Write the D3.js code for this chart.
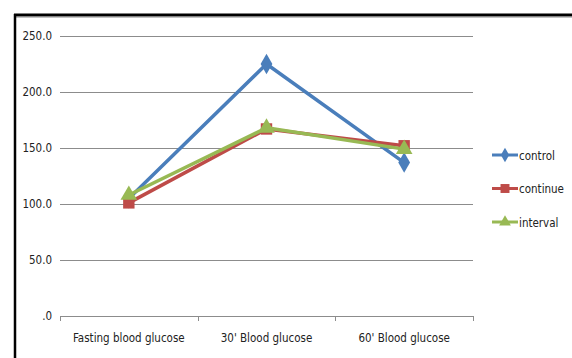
<!DOCTYPE html>
<html>
<head>
<meta charset="utf-8">
<script src="https://cdn.jsdelivr.net/npm/d3@7"></script>
<style>
  body { margin: 0; background: #fff; }
  svg text { font-family: "Liberation Sans Narrow", "DejaVu Sans Condensed", sans-serif; font-size: 11.5px; fill: #222; }
</style>
</head>
<body>
<svg id="chart"></svg>
<script>
const categories = ["Fasting blood glucose", "30' Blood glucose", "60' Blood glucose"]
const control = [105, 225, 137]
const continueVals = [101, 167, 152]
const interval = [108, 168, 149]
const yTicks = [0, 50, 100, 150, 200, 250]

const series = [
    { name: "control", values: control, color: "#4a7ebb", shape: "diamond" },
    { name: "continue", values: continueVals, color: "#be4b48", shape: "square" },
    { name: "interval", values: interval, color: "#98b954", shape: "triangle" }
]

const width = 572, height = 358
const svg = d3.select("#chart").attr("width", width).attr("height", height)

// frame (only top and left edges visible in crop)
svg.append("line").attr("x1", 14).attr("x2", width).attr("y1", 15).attr("y2", 15)
    .attr("stroke", "#000").attr("stroke-width", 3)
svg.append("line").attr("x1", 14).attr("x2", width).attr("y1", 17).attr("y2", 17)
    .attr("stroke", "#888").attr("stroke-width", 1)
svg.append("line").attr("x1", 15).attr("x2", 15).attr("y1", 14).attr("y2", height)
    .attr("stroke", "#000").attr("stroke-width", 2.5)

const x = d3.scaleBand().domain(categories).range([60, 473])
const y = d3.scaleLinear().domain([0, 250]).range([316, 36])

// gridlines
svg.append("g").selectAll("line").data(yTicks).enter().append("line")
    .attr("x1", 60).attr("x2", 473)
    .attr("y1", d => Math.round(y(d)) + 0.5).attr("y2", d => Math.round(y(d)) + 0.5)
    .attr("stroke", "#8c8c8c").attr("stroke-width", 1)

// y labels
svg.append("g").selectAll("text").data(yTicks).enter().append("text")
    .attr("x", 52).attr("y", d => y(d) + 4)
    .attr("text-anchor", "end")
    .text(d => d === 0 ? ".0" : d.toFixed(1))

// x category ticks
const tickXs = [60, ...categories.map(c => x(c) + x.bandwidth())]
svg.append("g").selectAll("line").data(tickXs).enter().append("line")
    .attr("x1", d => Math.round(d) + 0.5).attr("x2", d => Math.round(d) + 0.5)
    .attr("y1", 316).attr("y2", 321)
    .attr("stroke", "#8c8c8c")

svg.append("g").selectAll("text").data(categories).enter().append("text")
    .attr("x", d => x(d) + x.bandwidth() / 2).attr("y", 342)
    .attr("text-anchor", "middle")
    .text(d => d)

const cx = i => x(categories[i]) + x.bandwidth() / 2

const symbolType = {
    diamond: d3.symbolDiamond,
    square: d3.symbolSquare,
    triangle: d3.symbolTriangle
}

const line = d3.line().x((d, i) => cx(i)).y(d => y(d))

series.forEach(s => {
    svg.append("path")
        .attr("d", line(s.values))
        .attr("fill", "none")
        .attr("stroke", s.color)
        .attr("stroke-width", 3.5)
        .attr("stroke-linejoin", "round")
    svg.append("g").selectAll("path").data(s.values).enter().append("path")
        .attr("transform", (d, i) => `translate(${cx(i)},${y(d)})`)
        .attr("d", d3.symbol().type(symbolType[s.shape]).size(s.shape === "square" ? 130 : 120))
        .attr("fill", s.color)
})

// legend
const legend = svg.append("g")
series.forEach((s, i) => {
    const ly = 155 + i * 33.5
    legend.append("line").attr("x1", 492).attr("x2", 518).attr("y1", ly).attr("y2", ly)
        .attr("stroke", s.color).attr("stroke-width", 3)
    legend.append("path")
        .attr("transform", `translate(505,${ly})`)
        .attr("d", d3.symbol().type(symbolType[s.shape]).size(s.shape === "square" ? 80 : 60))
        .attr("fill", s.color)
    legend.append("text").attr("x", 519).attr("y", ly + 4.5).text(s.name)
})
</script>
</body>
</html>
